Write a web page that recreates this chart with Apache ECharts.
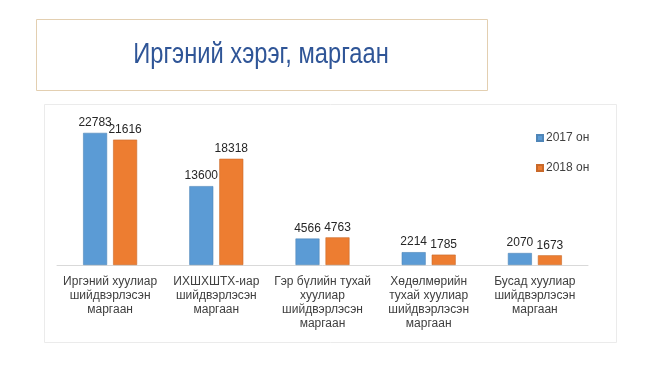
<!DOCTYPE html>
<html><head><meta charset="utf-8">
<script src="https://cdn.jsdelivr.net/npm/echarts@6/dist/echarts.min.js"></script>
<style>html,body{margin:0;padding:0;background:#fff}#c{width:650px;height:365px}</style>
</head><body><div id="c"></div>
<script>
const categories = [
  "Иргэний хуулиар\nшийдвэрлэсэн\nмаргаан",
  "ИХШХШТХ-иар\nшийдвэрлэсэн\nмаргаан",
  "Гэр бүлийн тухай\nхуулиар\nшийдвэрлэсэн\nмаргаан",
  "Хөдөлмөрийн\nтухай хуулиар\nшийдвэрлэсэн\nмаргаан",
  "Бусад хуулиар\nшийдвэрлэсэн\nмаргаан"
];
const seriesNames = ["2017 он", "2018 он"];
const values2017 = [22783, 13600, 4566, 2214, 2070];
const values2018 = [21616, 18318, 4763, 1785, 1673];
const titleText = "Иргэний хэрэг, маргаан";

const chart = echarts.init(document.getElementById('c'));
const font = "'Liberation Sans', Arial, sans-serif";
chart.setOption({
  backgroundColor: '#ffffff',
  animation: false,
  graphic: [
    {type:'rect', shape:{x:36.5,y:19.5,width:451,height:71}, style:{fill:'#ffffff', stroke:'#E3CFB1', lineWidth:1}, z:-10},
    {type:'rect', shape:{x:44.5,y:104.5,width:572,height:238}, style:{fill:'#ffffff', stroke:'#EBEBEB', lineWidth:1}, z:-10},
    {type:'text', x:261, y:55, scaleX:0.79, scaleY:1,
     style:{text:titleText, font:"normal 30px 'Liberation Sans', Arial, sans-serif", fill:'#2F5597', textAlign:'center', textVerticalAlign:'middle'}}
  ],
  legend: {
    orient: 'vertical', left: 531, top: 127, itemWidth: 6, itemHeight: 6, itemGap: 18,
    icon: 'rect', data: seriesNames,
    textStyle: {fontFamily: font, fontSize: 12, color: '#404040', padding:[0,0,0,-2]}
  },
  grid: {left: 57, right: 62, top: 120, bottom: 100},
  xAxis: {
    type: 'category', data: categories,
    axisLine: {lineStyle: {color: '#D9D9D9'}}, axisTick: {show: false},
    axisLabel: {interval: 0, margin: 10, fontFamily: font, fontSize: 12, lineHeight: 14, color: '#404040'}
  },
  yAxis: {type: 'value', min: 0, max: 25000, show: false, splitLine: {show: false}},
  series: [
    {name: seriesNames[0], type: 'bar', data: values2017, barWidth: 24, barGap: '25%',
     itemStyle: {color: '#5B9BD5', borderColor: '#4F86B8', borderWidth: 0.6},
     label: {show: true, position: 'top', distance: 4, fontFamily: font, fontSize: 12, color: '#262626'}},
    {name: seriesNames[1], type: 'bar', data: values2018, barWidth: 24,
     itemStyle: {color: '#ED7D31', borderColor: '#C9692A', borderWidth: 0.6},
     label: {show: true, position: 'top', distance: 4, fontFamily: font, fontSize: 12, color: '#262626'}}
  ]
});
</script></body></html>
